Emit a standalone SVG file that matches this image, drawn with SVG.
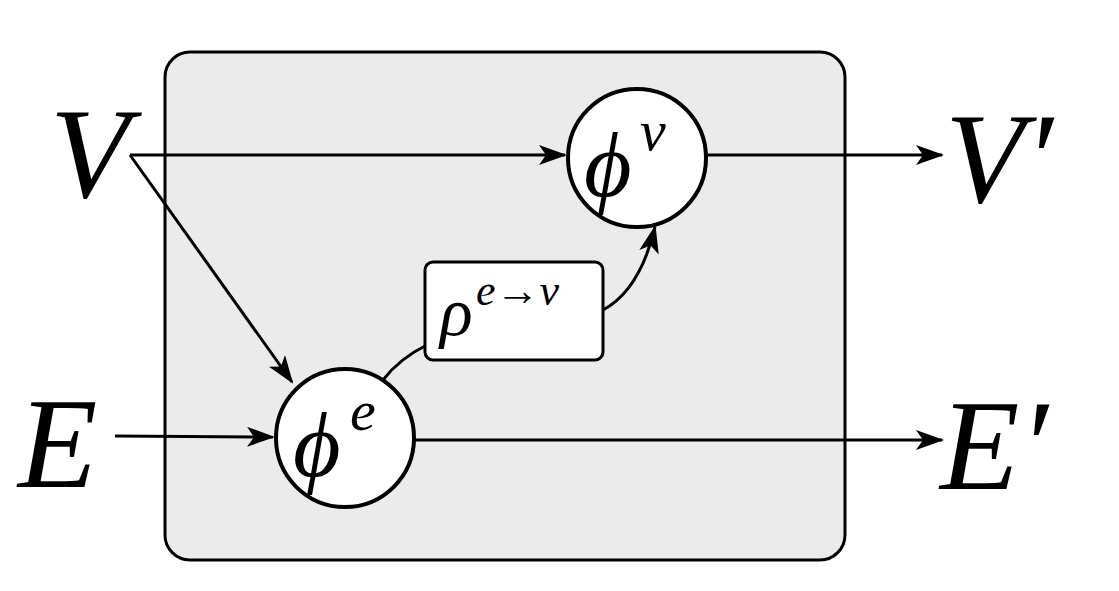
<svg xmlns="http://www.w3.org/2000/svg" width="1119" height="591" viewBox="0 0 1119 591">
<style>
.t{font-family:"Liberation Serif",serif;font-style:italic;fill:#000}
.c{fill:#fff;stroke:#000;stroke-width:4}
.l{fill:none;stroke:#000;stroke-width:3}
</style>
<defs><marker id="a" viewBox="0 0 28 20" refX="26" refY="10" markerWidth="28" markerHeight="20" markerUnits="userSpaceOnUse" orient="auto"><path d="M0,0 L28,10 L0,20 L7,10 Z" fill="#000"/></marker></defs>
<rect x="165" y="52" width="680" height="508" rx="25" fill="#ebebeb" stroke="#000" stroke-width="3"/>
<g id="connectors">
<path class="l" d="M130,155 L565,155" marker-end="url(#a)"/>
<path class="l" d="M130,155 L292,382" marker-end="url(#a)"/>
<path class="l" d="M115,436 L273,437" marker-end="url(#a)"/>
<path class="l" d="M415,440 L942,440" marker-end="url(#a)"/>
<path class="l" d="M707,155 L942,155" marker-end="url(#a)"/>
<path class="l" d="M383,380 Q400,358 427,345"/>
<path class="l" d="M603,310 Q640,290 655,227" marker-end="url(#a)"/>
</g>
<g id="phiv"><circle class="c" cx="637" cy="158" r="69"/><text class="t" x="584" y="196" font-size="92">ϕ</text><text class="t" x="640" y="150" font-size="58">v</text></g>
<g id="phie"><circle class="c" cx="345" cy="438" r="69"/><text class="t" x="293" y="476" font-size="92">ϕ</text><text class="t" x="350" y="430" font-size="58">e</text></g>
<g id="rho"><rect x="425" y="262" width="178" height="98" rx="8" fill="#fff" stroke="#000" stroke-width="3"/><text class="t" x="440" y="335" font-size="68">ρ</text><text class="t" x="476" y="305" font-size="44">e→v</text></g>
<g id="V"><text class="t" x="50" y="197" font-size="130">V</text></g>
<g id="Vp"><text class="t" x="945" y="202" font-size="130">V′</text></g>
<g id="E"><text class="t" x="18" y="487" font-size="130">E</text></g>
<g id="Ep"><text class="t" x="940" y="489" font-size="130">E′</text></g>
</svg>
